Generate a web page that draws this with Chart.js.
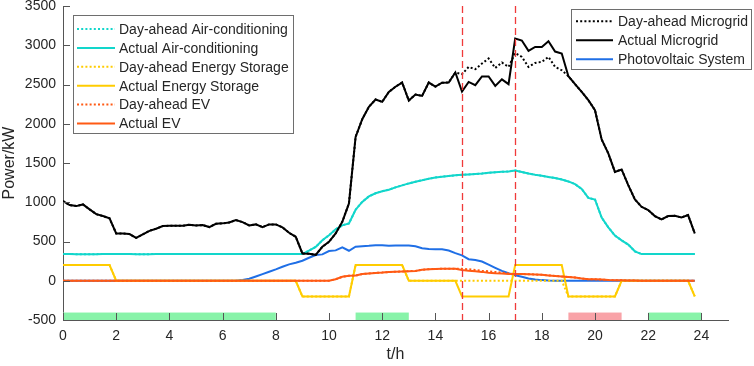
<!DOCTYPE html>
<html>
<head>
<meta charset="utf-8">
<script src="https://cdn.jsdelivr.net/npm/chart.js@4.4.1/dist/chart.umd.min.js"></script>
<style>
  html, body { margin: 0; padding: 0; background: #fff; }
  #wrap { width: 754px; height: 366px; }
</style>
</head>
<body>
<div id="wrap"><canvas id="loadChart" width="754" height="366"></canvas></div>
<script>
// ===== Microgrid day-ahead vs actual load chart =====
// 15-minute resolution, 0:00 .. 23:45

const hours = Array.from({ length: 96 }, (_, i) => i / 4);

// Air-conditioning load (kW)
const acActual = [
  340, 340, 339, 338, 338, 339, 340, 340,
  340, 340, 340, 339, 339, 339, 340, 340,
  340, 340, 340, 340, 340, 340, 340, 340,
  340, 340, 340, 340, 340, 340, 340, 340,
  340, 340, 340, 340, 340, 385, 430, 515,
  580, 655, 705, 730, 905, 1005, 1075, 1115,
  1140, 1160, 1190, 1215, 1240, 1262, 1280, 1300,
  1315, 1325, 1335, 1343, 1350, 1355, 1360, 1365,
  1375, 1382, 1387, 1393, 1405, 1385, 1365, 1350,
  1338, 1322, 1308, 1290, 1265, 1230, 1170, 1055,
  1035, 805, 680, 575, 515, 460, 375, 340,
  340, 340, 340, 340, 340, 340, 340, 340
];
// day-ahead AC plan sits exactly under the actual curve
const acDayAhead = acActual.slice();

// Energy storage (kW, + discharge / - charge)
const esActual = [
  200, 200, 200, 200, 200, 200, 200, 200,
  0, 0, 0, 0, 0, 0, 0, 0,
  0, 0, 0, 0, 0, 0, 0, 0,
  0, 0, 0, 0, 0, 0, 0, 0,
  0, 0, 0, 0, -200, -200, -200, -200,
  -200, -200, -200, -200, 200, 200, 200, 200,
  200, 200, 200, 200, 0, 0, 0, 0,
  0, 0, 0, 0, -200, -200, -200, -200,
  -200, -200, -200, -200, 200, 200, 200, 200,
  200, 200, 200, 200, -200, -200, -200, -200,
  -200, -200, -200, -200, 0, 0, 0, 0,
  0, 0, 0, 0, 0, 0, 0, -200
];
const esDayAhead = [
  200, 200, 200, 200, 200, 200, 200, 200,
  0, 0, 0, 0, 0, 0, 0, 0,
  0, 0, 0, 0, 0, 0, 0, 0,
  0, 0, 0, 0, 0, 0, 0, 0,
  0, 0, 0, 0, -200, -200, -200, -200,
  -200, -200, -200, -200, 200, 200, 200, 200,
  200, 200, 200, 200, 0, 0, 0, 0,
  0, 0, 0, 0, 0, 0, 0, 0,
  0, 0, 0, 0, 0, 0, 0, 0,
  0, 0, 0, 0, -200, -200, -200, -200,
  -200, -200, -200, -200, 0, 0, 0, 0,
  0, 0, 0, 0, 0, 0, 0, -200
];

// EV charging (kW)
const evActual = [
  0, 0, 0, 0, 0, 0, 0, 0,
  0, 0, 0, 0, 0, 0, 0, 0,
  0, 0, 0, 0, 0, 0, 0, 0,
  0, 0, 0, 0, 0, 0, 0, 0,
  0, 0, 0, 0, 0, 0, 0, 0,
  0, 20, 50, 64, 66, 85, 93, 100,
  104, 110, 115, 118, 122, 125, 140, 147,
  150, 152, 153, 153, 136, 127, 120, 113,
  102, 96, 92, 87, 85, 85, 83, 80,
  75, 68, 62, 55, 48, 40, 28, 20,
  18, 15, 10, 7, 5, 3, 2, 0,
  0, 0, 0, 0, 0, 0, 0, 0
];
const evDayAhead = [
  0, 0, 0, 0, 0, 0, 0, 0,
  0, 0, 0, 0, 0, 0, 0, 0,
  0, 0, 0, 0, 0, 0, 0, 0,
  0, 0, 0, 0, 0, 0, 0, 0,
  0, 0, 0, 0, 0, 0, 0, 0,
  0, 20, 50, 64, 66, 85, 93, 100,
  104, 110, 115, 118, 122, 125, 140, 147,
  150, 152, 153, 153, 152, 146, 138, 128,
  120, 112, 102, 92, 85, 85, 83, 80,
  75, 68, 62, 55, 48, 40, 28, 20,
  18, 15, 10, 7, 5, 3, 2, 0,
  0, 0, 0, 0, 0, 0, 0, 0
];

// Photovoltaic output (kW)
const pvOutput = [
  0, 0, 0, 0, 0, 0, 0, 0,
  0, 0, 0, 0, 0, 0, 0, 0,
  0, 0, 0, 0, 0, 0, 0, 0,
  0, 0, 0, 10, 25, 55, 85, 115,
  145, 178, 209, 229, 255, 293, 327, 336,
  378, 387, 425, 382, 433, 441, 445, 452,
  452, 445, 448, 450, 448, 440, 415, 403,
  402, 400, 385, 352, 323, 275, 263, 245,
  205, 165, 125, 95, 70, 50, 28, 15,
  8, 3, 0, 0, 0, 0, 0, 0,
  0, 0, 0, 0, 0, 0, 0, 0,
  0, 0, 0, 0, 0, 0, 0, 0
];

// Microgrid total (kW)
const mgActual = [
  1015, 964, 951, 972, 909, 849, 824, 794,
  603, 603, 595, 547, 591, 636, 662, 696,
  700, 700, 700, 713, 705, 709, 684, 726,
  731, 743, 773, 747, 705, 718, 684, 718,
  718, 680, 611, 560, 348, 345, 330, 433,
  496, 603, 751, 985, 1833, 2058, 2217, 2309,
  2279, 2406, 2472, 2525, 2296, 2373, 2355, 2525,
  2472, 2523, 2525, 2653, 2411, 2533, 2491, 2602,
  2602, 2482, 2565, 2504, 3086, 3060, 2928, 2979,
  2979, 3051, 2920, 2895, 2606, 2504, 2406, 2300,
  2173, 1800, 1622, 1387, 1418, 1218, 1036, 942,
  900, 824, 781, 824, 827, 807, 836, 603
];
const mgDayAhead = [
  1015, 964, 951, 972, 909, 849, 824, 794,
  603, 603, 595, 547, 591, 636, 662, 696,
  700, 700, 700, 713, 705, 709, 684, 726,
  731, 743, 773, 747, 705, 718, 684, 718,
  718, 680, 611, 560, 348, 345, 330, 433,
  496, 603, 751, 985, 1833, 2058, 2217, 2309,
  2279, 2406, 2472, 2525, 2296, 2373, 2355, 2525,
  2472, 2523, 2525, 2653, 2631, 2724, 2695, 2767,
  2831, 2711, 2780, 2724, 2902, 2851, 2724, 2775,
  2788, 2851, 2724, 2682, 2606, 2504, 2406, 2300,
  2173, 1800, 1622, 1387, 1418, 1218, 1036, 942,
  900, 824, 781, 824, 827, 807, 836, 603
];

// Price periods shown as a strip at the bottom
const periodStart = [0, 11, 19, 22];
const periodEnd = [8, 13, 21, 24];
const periodType = ['valley', 'valley', 'peak', 'valley'];

// Rolling-dispatch window markers (h)
const eventHours = [15, 17];

const xTicks = [0, 2, 4, 6, 8, 10, 12, 14, 16, 18, 20, 22, 24];
const yTicks = [-500, 0, 500, 1000, 1500, 2000, 2500, 3000, 3500];

// Colors
const acColor = '#12d6cb';
const esColor = '#ffcc00';
const evColor = '#ff5a14';
const pvColor = '#1f6fe6';
const mgColor = '#000000';
const axisColor = '#555555';
const textColor = '#262626';
const FONT = "'Liberation Sans', Arial, sans-serif";
const dotted = [2, 2.2];

function pts(values) {
  return values.map((v, i) => ({ x: hours[i], y: v }));
}

function series(label, values, color, dash) {
  return {
    label,
    data: pts(values),
    borderColor: color,
    backgroundColor: color,
    borderWidth: 2,
    borderDash: dash || [],
    pointRadius: 0,
    tension: 0,
    fill: false
  };
}

// index 0 is drawn on top
const datasets = [
  series('Actual Microgrid', mgActual, mgColor),
  series('Day-ahead Microgrid', mgDayAhead, mgColor, dotted),
  series('Actual EV', evActual, evColor),
  series('Day-ahead EV', evDayAhead, evColor, dotted),
  series('Day-ahead Energy Storage', esDayAhead, esColor, dotted),
  series('Actual Energy Storage', esActual, esColor),
  series('Photovoltaic System', pvOutput, pvColor),
  series('Actual Air-conditioning', acActual, acColor),
  series('Day-ahead Air-conditioning', acDayAhead, acColor, dotted)
];

const legendOrder1 = ['Day-ahead Air-conditioning', 'Actual Air-conditioning',
  'Day-ahead Energy Storage', 'Actual Energy Storage', 'Day-ahead EV', 'Actual EV'];
const legendOrder2 = ['Day-ahead Microgrid', 'Actual Microgrid', 'Photovoltaic System'];

function drawLegend(ctx, chart, labels, box) {
  ctx.save();
  ctx.fillStyle = '#ffffff';
  ctx.fillRect(box.x, box.y, box.w, box.h);
  ctx.strokeStyle = '#6e6e6e';
  ctx.lineWidth = 1;
  ctx.strokeRect(box.x + 0.5, box.y + 0.5, box.w, box.h);
  ctx.font = '14px ' + FONT;
  ctx.textBaseline = 'middle';
  ctx.textAlign = 'left';
  labels.forEach((label, i) => {
    const ds = chart.data.datasets.find(d => d.label === label);
    const yy = box.firstRow + i * box.rowGap;
    ctx.strokeStyle = ds.borderColor;
    ctx.lineWidth = 2;
    ctx.setLineDash(ds.borderDash);
    ctx.beginPath();
    ctx.moveTo(box.lineX0, yy);
    ctx.lineTo(box.lineX1, yy);
    ctx.stroke();
    ctx.setLineDash([]);
    ctx.fillStyle = textColor;
    ctx.fillText(label, box.textX, yy + 1);
  });
  ctx.restore();
}

const overlayPlugin = {
  id: 'overlay',
  beforeDatasetsDraw(chart) {
    const { ctx, scales: { x, y } } = chart;
    ctx.save();
    // price period strip
    const top = y.getPixelForValue(-405);
    const bottom = y.getPixelForValue(-500);
    periodStart.forEach((s, i) => {
      const x0 = x.getPixelForValue(s);
      const x1 = x.getPixelForValue(periodEnd[i]);
      ctx.fillStyle = periodType[i] === 'peak' ? '#f9a3a8' : '#88f3a9';
      ctx.fillRect(x0, top, x1 - x0, bottom - top);
    });
    ctx.restore();
  },
  afterDatasetsDraw(chart) {
    const { ctx, chartArea, scales: { x, y } } = chart;
    ctx.save();
    // red dashed event lines
    ctx.strokeStyle = '#f03a3a';
    ctx.lineWidth = 1.3;
    ctx.setLineDash([7, 4]);
    eventHours.forEach(h => {
      const px = Math.round(x.getPixelForValue(h)) + 0.5;
      ctx.beginPath();
      ctx.moveTo(px, chartArea.top);
      ctx.lineTo(px, chartArea.bottom);
      ctx.stroke();
    });
    ctx.setLineDash([]);

    // inward tick marks (MATLAB style)
    ctx.strokeStyle = axisColor;
    ctx.lineWidth = 1;
    xTicks.forEach(v => {
      const px = Math.round(x.getPixelForValue(v)) + 0.5;
      ctx.beginPath();
      ctx.moveTo(px, chartArea.bottom);
      ctx.lineTo(px, chartArea.bottom - 7);
      ctx.stroke();
    });
    yTicks.forEach(v => {
      const py = Math.round(y.getPixelForValue(v)) + 0.5;
      ctx.beginPath();
      ctx.moveTo(chartArea.left, py);
      ctx.lineTo(chartArea.left + 7, py);
      ctx.stroke();
    });
    ctx.restore();

    drawLegend(ctx, chart, legendOrder1, {
      x: 73, y: 15, w: 220, h: 118,
      firstRow: 29, rowGap: 18.9, lineX0: 77, lineX1: 115, textX: 119
    });
    drawLegend(ctx, chart, legendOrder2, {
      x: 571, y: 9, w: 180, h: 60,
      firstRow: 21.3, rowGap: 19, lineX0: 576, lineX1: 613, textX: 618
    });
  }
};

new Chart(document.getElementById('loadChart').getContext('2d'), {
  type: 'line',
  data: { datasets },
  options: {
    responsive: false,
    animation: false,
    events: [],
    layout: { padding: { left: 0, right: 26, top: 6, bottom: 0 } },
    plugins: {
      legend: { display: false },
      tooltip: { enabled: false }
    },
    scales: {
      x: {
        type: 'linear',
        min: 0,
        max: 25,
        grid: { display: false, drawTicks: false },
        border: { display: true, color: axisColor, width: 1 },
        afterBuildTicks: scale => { scale.ticks = xTicks.map(v => ({ value: v })); },
        afterFit: scale => {
          scale.height = 46;
          scale.paddingLeft = 0;
          scale.paddingRight = 0;
        },
        ticks: {
          color: textColor,
          font: { family: FONT, size: 14 },
          padding: 8,
          maxRotation: 0,
          autoSkip: false,
          callback: v => String(v)
        },
        title: {
          display: true,
          text: 't/h',
          color: textColor,
          font: { family: FONT, size: 16 },
          padding: { top: 0, bottom: 2 }
        }
      },
      y: {
        type: 'linear',
        min: -500,
        max: 3500,
        grid: { display: false, drawTicks: false },
        border: { display: true, color: axisColor, width: 1 },
        afterBuildTicks: scale => { scale.ticks = yTicks.map(v => ({ value: v })); },
        afterFit: scale => {
          scale.width = 63;
          scale.paddingTop = 0;
          scale.paddingBottom = 0;
        },
        ticks: {
          color: textColor,
          font: { family: FONT, size: 14 },
          padding: 7,
          callback: v => String(v)
        },
        title: {
          display: true,
          text: 'Power/kW',
          color: textColor,
          font: { family: FONT, size: 16 },
          padding: 0
        }
      }
    }
  },
  plugins: [overlayPlugin]
});
</script>
</body>
</html>
